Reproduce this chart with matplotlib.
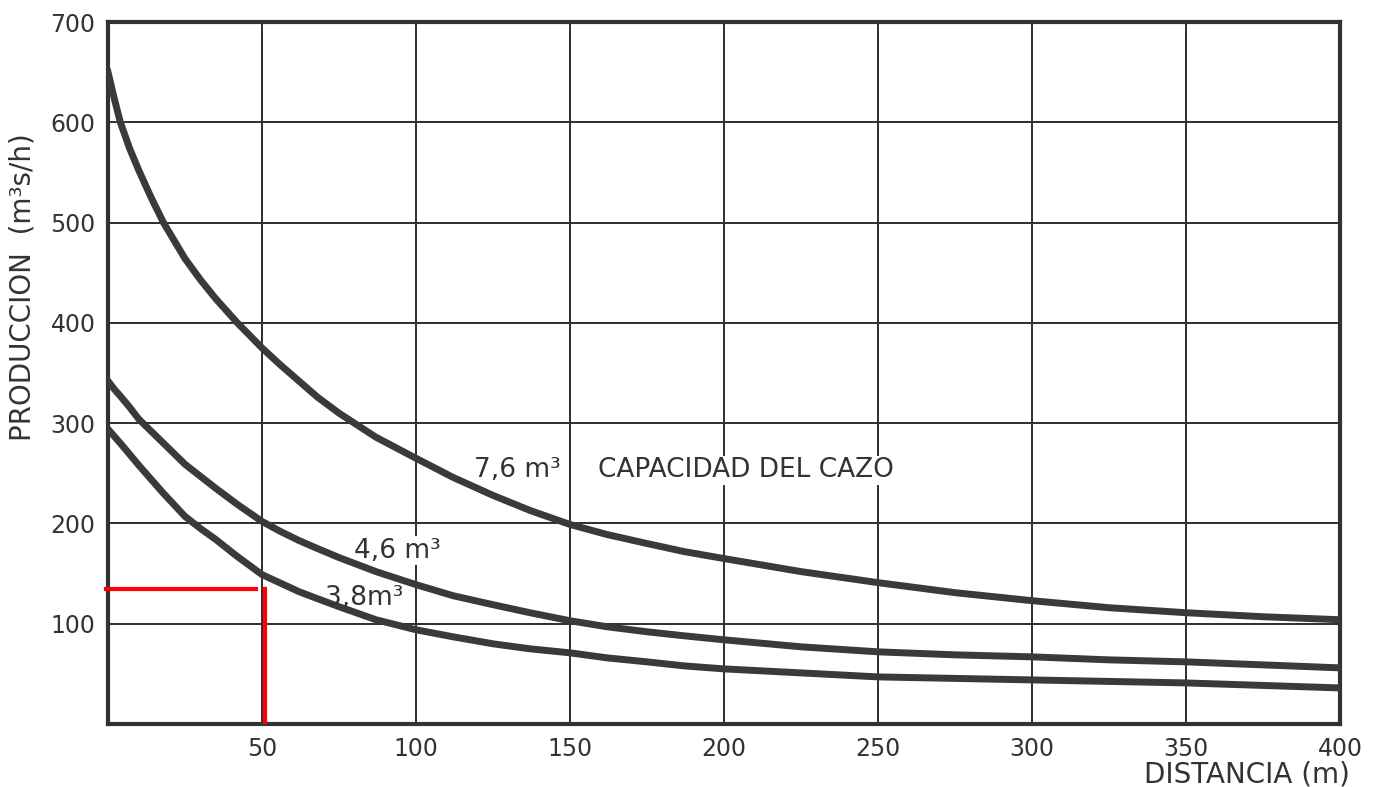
import numpy as np
import matplotlib.pyplot as plt

# distancia (m) donde se leyeron las curvas
dist = [0, 2, 4, 7, 10, 14, 18, 25, 30, 35, 42, 50, 56, 62, 68, 75, 87, 100,
        112, 125, 137, 150, 162, 175, 187, 200, 225, 250, 275, 300, 325, 350, 375, 400]

# produccion (m3/h) para cada capacidad del cazo
prod_76 = [650, 624, 600, 574, 552, 525, 500, 464, 443, 424, 400, 375, 358, 342, 326, 310, 286, 265,
           246, 228, 213, 199, 189, 180, 172, 165, 152, 141, 131, 123, 116, 111, 107, 104]
prod_46 = [342, 334, 327, 316, 304, 292, 280, 259, 247, 235, 219, 202, 192, 183, 175, 166, 152, 139,
           128, 119, 111, 103, 97, 92, 88, 84, 77, 72, 69, 67, 64, 62, 59, 56]
prod_38 = [294, 287, 280, 269, 258, 244, 230, 207, 195, 184, 167, 149, 140.5, 132, 125, 117, 104, 94,
           87, 80, 75, 71, 66, 62, 58, 55, 51, 47, 45.5, 44, 42.5, 41, 38.5, 36]

x_ticks = [50, 100, 150, 200, 250, 300, 350, 400]
y_ticks = [100, 200, 300, 400, 500, 600, 700]

# lectura marcada en rojo
red_x = 51
red_y = 135

plt.rcParams['font.family'] = ['DejaVu Sans']

fig = plt.figure(figsize=(13.85, 7.87), dpi=100)
ax = fig.add_axes([0.078, 0.080, 0.8895, 0.892])

ink = '#3a3a3a'
for serie in [prod_76, prod_46, prod_38]:
    ax.plot(dist, serie, color=ink, linewidth=5, solid_joinstyle='round', zorder=3)

# lineas rojas
ax.plot([-0.7, red_x - 3], [red_y, red_y], color='red', linewidth=3, zorder=6, clip_on=False)
ax.plot([red_x, red_x], [0, red_y], color='red', linewidth=3, zorder=6)

ax.set_xlim(0, 400)
ax.set_ylim(0, 700)
ax.set_xticks(x_ticks)
ax.set_yticks(y_ticks)
ax.tick_params(length=0, labelsize=17, pad=9, colors='#333333')
ax.grid(True, color='#2e2e2e', linewidth=1.4)
ax.set_axisbelow(True)
for s in ax.spines.values():
    s.set_linewidth(3)
    s.set_color('#333333')

# textos sobre la grafica (fondo blanco corta la reticula, no las curvas)
box = dict(facecolor='white', edgecolor='none', pad=1)
tc = '#333333'
ax.text(147, 253, '7,6 m³', ha='right', va='center', fontsize=19, color=tc, bbox=box, zorder=2)
ax.text(159, 253, 'CAPACIDAD DEL CAZO', ha='left', va='center', fontsize=19, color=tc, bbox=box, zorder=2)
ax.text(80, 173, '4,6 m³', ha='left', va='center', fontsize=19, color=tc, bbox=box, zorder=2)
ax.text(70.5, 126, '3,8m³', ha='left', va='center', fontsize=19, color=tc, zorder=4)

fig.text(0.0166, 0.635, 'PRODUCCION  (m³s/h)', rotation=90, ha='center', va='center', fontsize=20, color=tc)
fig.text(0.975, 0.006, 'DISTANCIA (m)', ha='right', va='baseline', fontsize=20, color=tc)

fig.savefig('out.png', dpi=100)
